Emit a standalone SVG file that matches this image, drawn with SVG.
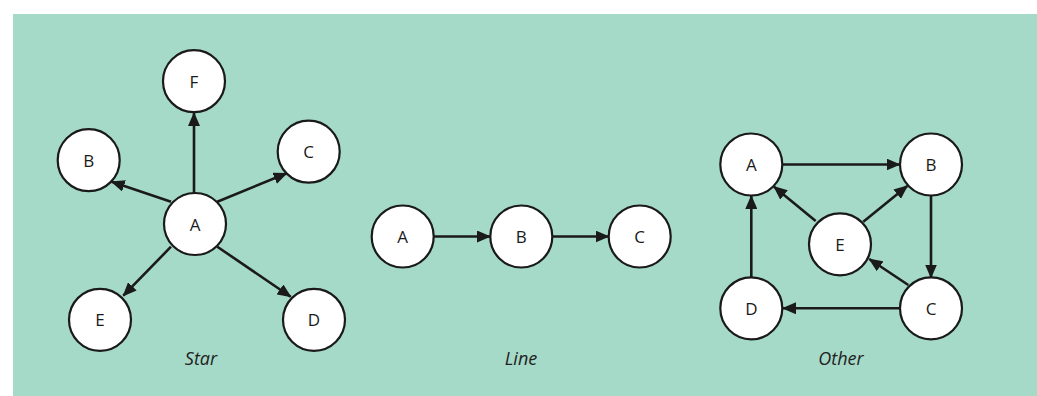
<svg xmlns="http://www.w3.org/2000/svg" width="1037" height="396" viewBox="0 0 1037 396">
<defs>
<marker id="ah" markerUnits="userSpaceOnUse" markerWidth="14" markerHeight="12" viewBox="0 0 14 12" refX="13" refY="6" orient="auto">
<path d="M0,0 L14,6 L0,12 Z" fill="#1a1a1a"/>
</marker>
</defs>
<style>
.n circle{fill:#fff;stroke:#1a1a1a;stroke-width:2.2}
.n text{font-family:"Open Sans","Liberation Sans",sans-serif;font-size:17px;fill:#1a1a1a;text-anchor:middle;dominant-baseline:central}
.e line{stroke:#1a1a1a;stroke-width:2.6;marker-end:url(#ah)}
.lbl{font-family:"Open Sans","Liberation Sans",sans-serif;font-size:18px;font-style:italic;fill:#222;text-anchor:middle}
</style>
<rect x="13" y="14" width="1024" height="382" fill="#a6dac8"/>
<g id="edges" class="e">
<line x1="194" y1="193" x2="194" y2="113"/>
<line x1="171" y1="201.7" x2="111.7" y2="181.7"/>
<line x1="217.3" y1="201.7" x2="286.7" y2="173.3"/>
<line x1="171" y1="246.7" x2="123.3" y2="295.7"/>
<line x1="217.3" y1="246.7" x2="290.7" y2="296.7"/>
<line x1="434" y1="236.5" x2="490" y2="236.5"/>
<line x1="552.5" y1="236.5" x2="608.5" y2="236.5"/>
<line x1="782.5" y1="164.5" x2="899.5" y2="164.5"/>
<line x1="815.7" y1="221" x2="774" y2="186.7"/>
<line x1="863.3" y1="221.7" x2="907.3" y2="186"/>
<line x1="931" y1="195.5" x2="931" y2="277.5"/>
<line x1="908.3" y1="285" x2="869.3" y2="259"/>
<line x1="899.5" y1="308.3" x2="783" y2="308.3"/>
<line x1="751.3" y1="277.5" x2="751.3" y2="196"/>
</g>
<g id="star-F" class="n"><circle cx="194" cy="81.2" r="31"/><text x="194" y="81.2">F</text></g>
<g id="star-B" class="n"><circle cx="88.7" cy="160.2" r="31"/><text x="88.7" y="160.2">B</text></g>
<g id="star-C" class="n"><circle cx="308.7" cy="151.7" r="31"/><text x="308.7" y="151.7">C</text></g>
<g id="star-A" class="n"><circle cx="195" cy="224" r="31"/><text x="195" y="224">A</text></g>
<g id="star-E" class="n"><circle cx="100" cy="319.8" r="31"/><text x="100" y="319.8">E</text></g>
<g id="star-D" class="n"><circle cx="314" cy="319.8" r="31"/><text x="314" y="319.8">D</text></g>
<g id="line-A" class="n"><circle cx="402.7" cy="236.5" r="31"/><text x="402.7" y="236.5">A</text></g>
<g id="line-B" class="n"><circle cx="521.3" cy="236.5" r="31"/><text x="521.3" y="236.5">B</text></g>
<g id="line-C" class="n"><circle cx="639.7" cy="236.5" r="31"/><text x="639.7" y="236.5">C</text></g>
<g id="other-A" class="n"><circle cx="751.3" cy="164.5" r="31"/><text x="751.3" y="164.5">A</text></g>
<g id="other-B" class="n"><circle cx="931" cy="164.5" r="31"/><text x="931" y="164.5">B</text></g>
<g id="other-E" class="n"><circle cx="840" cy="244.3" r="31"/><text x="840" y="244.3">E</text></g>
<g id="other-D" class="n"><circle cx="751.3" cy="308.3" r="31"/><text x="751.3" y="308.3">D</text></g>
<g id="other-C" class="n"><circle cx="931" cy="308.3" r="31"/><text x="931" y="308.3">C</text></g>
<text class="lbl" x="201" y="365">Star</text>
<text class="lbl" x="521" y="365">Line</text>
<text class="lbl" x="841" y="365">Other</text>
</svg>
